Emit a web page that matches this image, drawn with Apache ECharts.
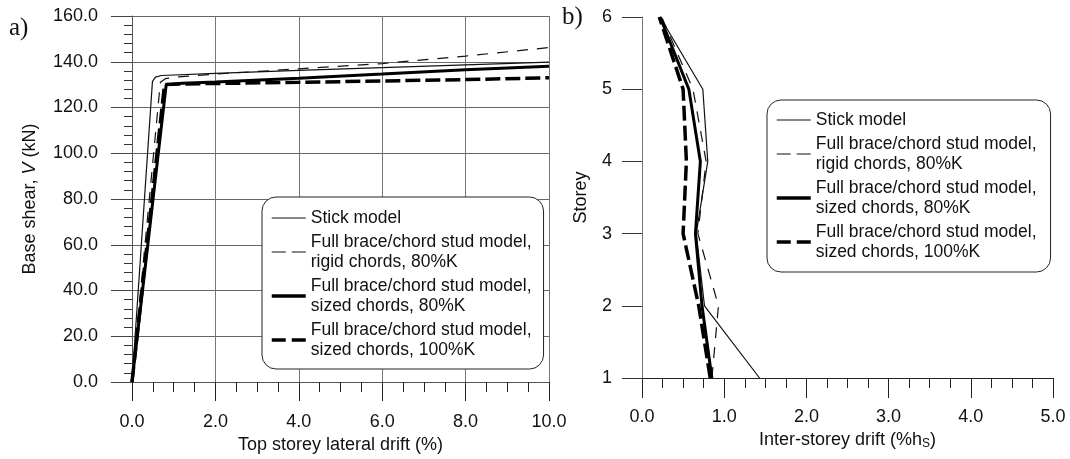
<!DOCTYPE html>
<html>
<head>
<meta charset="utf-8">
<script src="https://cdn.jsdelivr.net/npm/echarts@6/dist/echarts.min.js"></script>
<style>
html,body{margin:0;padding:0;background:#fff;}
#c{width:1070px;height:459px;}
</style>
</head>
<body>
<div id="c"></div>
<script>
// ---- Panel a: base shear vs top storey drift ----
const stickA_x  = [0, 0.49, 0.56, 0.7, 2, 4, 6, 8, 10];
const stickA_y  = [0, 131.3, 133.3, 134, 134.9, 136.2, 137.4, 138.6, 139.8];
const rigidA_x  = [0, 0.68, 0.8, 1, 2, 4, 6, 8, 10];
const rigidA_y  = [0, 131, 132.6, 133.2, 134.6, 136.9, 139.2, 142.5, 146.2];
const sized80A_x = [0, 0.82, 1.2, 2, 4, 6, 8, 10];
const sized80A_y = [0, 130, 130.6, 131.2, 132.8, 134.6, 136.5, 138];
const sized100A_x = [0, 0.78, 1.2, 2, 4, 6, 8, 10];
const sized100A_y = [0, 130, 130.3, 130.5, 131, 131.6, 132.2, 133];

// ---- Panel b: inter-storey drift per storey ----
const storeys   = [1, 2, 3, 4, 5, 6];
const stickB    = [1.43, 0.76, 0.66, 0.80, 0.74, 0.22];
const rigidB    = [0.85, 0.93, 0.68, 0.78, 0.62, 0.24];
const sized80B  = [0.85, 0.73, 0.65, 0.71, 0.57, 0.22];
const sized100B = [0.83, 0.69, 0.50, 0.54, 0.50, 0.21];

const names = [
  'Stick model',
  'Full brace/chord stud model,\nrigid chords, 80%K',
  'Full brace/chord stud model,\nsized chords, 80%K',
  'Full brace/chord stud model,\nsized chords, 100%K'
];
const styles = [
  {color:'#111', width:1.2, type:'solid'},
  {color:'#111', width:1.2, type:[11,9]},
  {color:'#000', width:3, type:'solid'},
  {color:'#000', width:3.5, type:[15,5]}
];
const legendStyles = [
  {color:'#111', width:1.2, type:'solid'},
  {color:'#111', width:1.2, type:[14,6]},
  {color:'#000', width:3.5, type:'solid'},
  {color:'#000', width:3.5, type:[14,6]}
];

function zip(xs, ys){ return xs.map((x,i)=>[x, ys[i]]); }
const aData = [zip(stickA_x, stickA_y), zip(rigidA_x, rigidA_y), zip(sized80A_x, sized80A_y), zip(sized100A_x, sized100A_y)];
const bData = [stickB, rigidB, sized80B, sized100B].map(arr => arr.map((v,i)=>[v, storeys[i]]));

const FONT = 'Liberation Sans, Arial, sans-serif';
const series = [];
aData.forEach((d,i)=>series.push({name:names[i], type:'line', xAxisIndex:0, yAxisIndex:0, data:d, showSymbol:false, symbol:'none', itemStyle:{color:'#000'}, lineStyle:styles[i], z:3+i, animation:false}));
bData.forEach((d,i)=>series.push({name:names[i], type:'line', xAxisIndex:1, yAxisIndex:1, data:d, showSymbol:false, symbol:'none', itemStyle:{color:'#000'}, lineStyle:styles[i], z:3+i, animation:false}));

const legendData = names.map((n,i)=>({name:n, itemStyle:{opacity:0}, lineStyle:legendStyles[i]}));
const legendCommon = {
  orient:'vertical', data:legendData, itemWidth:34, itemHeight:14, itemGap:4,
  itemStyle:{opacity:0},
  textStyle:{fontFamily:FONT, fontSize:17.5, lineHeight:20, color:'#111'},
  backgroundColor:'#fff', borderColor:'#222', borderWidth:1, borderRadius:14,
  selectedMode:false
};

const option = {
  animation:false,
  textStyle:{fontFamily:FONT},
  grid:[
    {left:132, right:521, top:16, bottom:77},
    {left:642, right:17, top:17, bottom:81}
  ],
  xAxis:[
    {type:'value', gridIndex:0, min:0, max:10, interval:2,
     name:'Top storey lateral drift (%)', nameLocation:'middle', nameGap:50,
     nameTextStyle:{fontFamily:FONT, fontSize:18, color:'#111'},
     axisLine:{show:true, lineStyle:{color:'#555', width:1}},
     axisTick:{show:true, length:19, lineStyle:{color:'#222'}},
     minorTick:{show:true, splitNumber:4, length:10, lineStyle:{color:'#222'}},
     splitLine:{show:true, lineStyle:{color:'#777', width:1}},
     axisLabel:{margin:31, fontFamily:FONT, fontSize:18, color:'#111', formatter:v=>v.toFixed(1), showMaxLabel:true}},
    {type:'value', gridIndex:1, min:0, max:5, interval:1,
     name:'Inter-storey drift (%h{s|S})', nameLocation:'middle', nameGap:49,
     nameTextStyle:{fontFamily:FONT, fontSize:18, color:'#111', rich:{s:{fontFamily:FONT, fontSize:12, padding:[8,0,0,0]}}},
     axisLine:{show:true, lineStyle:{color:'#222', width:1}},
     axisTick:{show:true, length:20, lineStyle:{color:'#222'}},
     minorTick:{show:true, splitNumber:4, length:10, lineStyle:{color:'#222'}},
     splitLine:{show:false},
     axisLabel:{margin:30, fontFamily:FONT, fontSize:18, color:'#111', formatter:v=>v.toFixed(1)}}
  ],
  yAxis:[
    {type:'value', gridIndex:0, min:0, max:160, interval:20,
     name:'Base shear, {i|V} (kN)', nameLocation:'middle', nameGap:93, nameRotate:90,
     nameTextStyle:{fontFamily:FONT, fontSize:18, color:'#111', rich:{i:{fontFamily:FONT, fontSize:18, fontStyle:'italic'}}},
     axisLine:{show:true, lineStyle:{color:'#555', width:1}},
     axisTick:{show:true, length:21, lineStyle:{color:'#444'}},
     minorTick:{show:true, splitNumber:5, length:8, lineStyle:{color:'#333'}},
     splitLine:{show:true, lineStyle:{color:'#666', width:1}},
     axisLabel:{margin:34, fontFamily:FONT, fontSize:18, color:'#111', formatter:v=>v.toFixed(1)}},
    {type:'value', gridIndex:1, min:1, max:6, interval:1,
     name:'Storey', nameLocation:'middle', nameGap:52, nameRotate:90,
     nameTextStyle:{fontFamily:FONT, fontSize:18, color:'#111'},
     axisLine:{show:true, lineStyle:{color:'#777', width:1}},
     axisTick:{show:true, length:20, lineStyle:{color:'#333'}},
     minorTick:{show:false},
     splitLine:{show:false},
     axisLabel:{margin:30, fontFamily:FONT, fontSize:18, color:'#111'}}
  ],
  legend:[
    Object.assign({}, legendCommon, {left:262, top:197, padding:[11,12,9,8]}),
    Object.assign({}, legendCommon, {left:767, top:100, padding:[10,14,10,8]})
  ],
  graphic:[
    {type:'text', left:9, top:16, style:{text:'a)', font:'25px "Liberation Serif", "Times New Roman", serif', fill:'#111'}},
    {type:'text', left:562, top:5, style:{text:'b)', font:'25px "Liberation Serif", "Times New Roman", serif', fill:'#111'}}
  ],
  series:series
};
const chart = echarts.init(document.getElementById('c'), null, {renderer:'canvas'});
chart.setOption(option);
</script>
</body>
</html>
